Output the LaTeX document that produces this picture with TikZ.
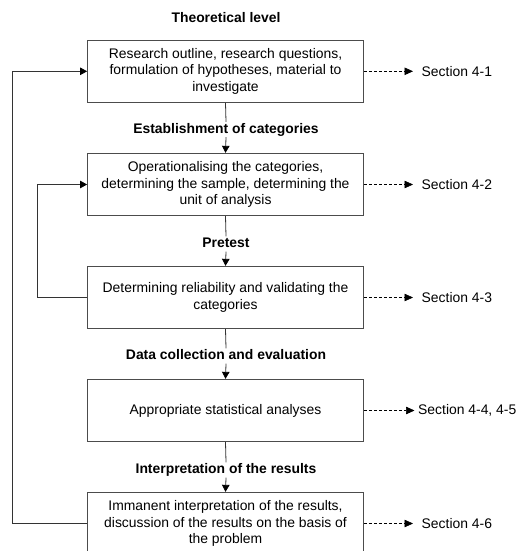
\documentclass[tikz,border=0pt]{standalone}
\usepackage{fontspec}
\setmainfont{Liberation Sans}
\usetikzlibrary{arrows.meta}
\begin{document}
\begin{tikzpicture}[x=1pt,y=-1pt,
  every node/.style={font=\fontsize{13.9}{16.4}\selectfont},
  stage/.style={draw=black!70, line width=0.8pt, minimum width=276pt,
    minimum height=62.5pt, align=center, inner sep=0pt},
  phase/.style={font=\fontsize{13.9}{16.4}\selectfont\bfseries, inner sep=1pt,
    text height=10pt, text depth=3pt},
  link/.style={line width=0.8pt, draw=black!80},
  flow/.style={link, -{Triangle[length=7pt,width=7.5pt,color=black]}},
  ref/.style={line width=0.6pt, dash pattern=on 3pt off 2pt,
    -{Triangle[length=8.5pt,width=7.5pt]}},
  sec/.style={anchor=west, inner ysep=0pt, inner xsep=8.5pt}
]
\useasboundingbox (0,0) rectangle (518,551);
\clip (0,0) rectangle (518,551);

% phase headings and process steps
\node[phase] (p0) at (226,19) {Theoretical level};
\node[stage] (b1) at (225.5,71.3) {Research outline, research questions,\\formulation of hypotheses, material to\\investigate};
\node[phase] (p1) at (226,129.5) {Establishment of categories};
\node[stage] (b2) at (225.5,184.5) {Operationalising the categories,\\determining the sample, determining the\\unit of analysis};
\node[phase] (p2) at (226,244) {Pretest};
\node[stage] (b3) at (225.5,297.5) {Determining reliability and validating the\\categories};
\node[phase] (p3) at (226,356) {Data collection and evaluation};
\node[stage] (b4) at (225.5,410.5) {Appropriate statistical analyses};
\node[phase] (p4) at (226,470) {Interpretation of the results};
\node[stage] (b5) at (225.5,523.5) {Immanent interpretation of the results,\\discussion of the results on the basis of\\the problem};

% main flow
\draw[link] (b1.south) -- (p1.north);
\draw[flow] (p1.south) -- (b2.north);
\draw[link] (b2.south) -- (p2.north);
\draw[flow] (p2.south) -- (b3.north);
\draw[link] (b3.south) -- (p3.north);
\draw[flow] (p3.south) -- (b4.north);
\draw[link] (b4.south) -- (p4.north);
\draw[flow] (p4.south) -- (b5.north);

% feedback loops
\coordinate (outer) at (12.3,0);
\coordinate (inner) at (37,0);
\draw[flow] (b5.west) -- (b5.west -| outer) |- (b1.west);
\draw[flow] (b3.west) -- (b3.west -| inner) |- (b2.west);

% section references
\node[sec] (s1) at (413,71.3) {Section 4-1};
\node[sec] (s2) at (413,184.5) {Section 4-2};
\node[sec] (s3) at (413,297.5) {Section 4-3};
\node[sec, inner xsep=3.5pt] (s4) at (414.5,410.5) {Section 4-4, 4-5};
\node[sec] (s5) at (413,523.5) {Section 4-6};
\draw[ref] (b1.east) -- (s1.west);
\draw[ref] (b2.east) -- (s2.west);
\draw[ref] (b3.east) -- (s3.west);
\draw[ref] (b4.east) -- (s4.west);
\draw[ref] (b5.east) -- (s5.west);
\end{tikzpicture}
\end{document}
